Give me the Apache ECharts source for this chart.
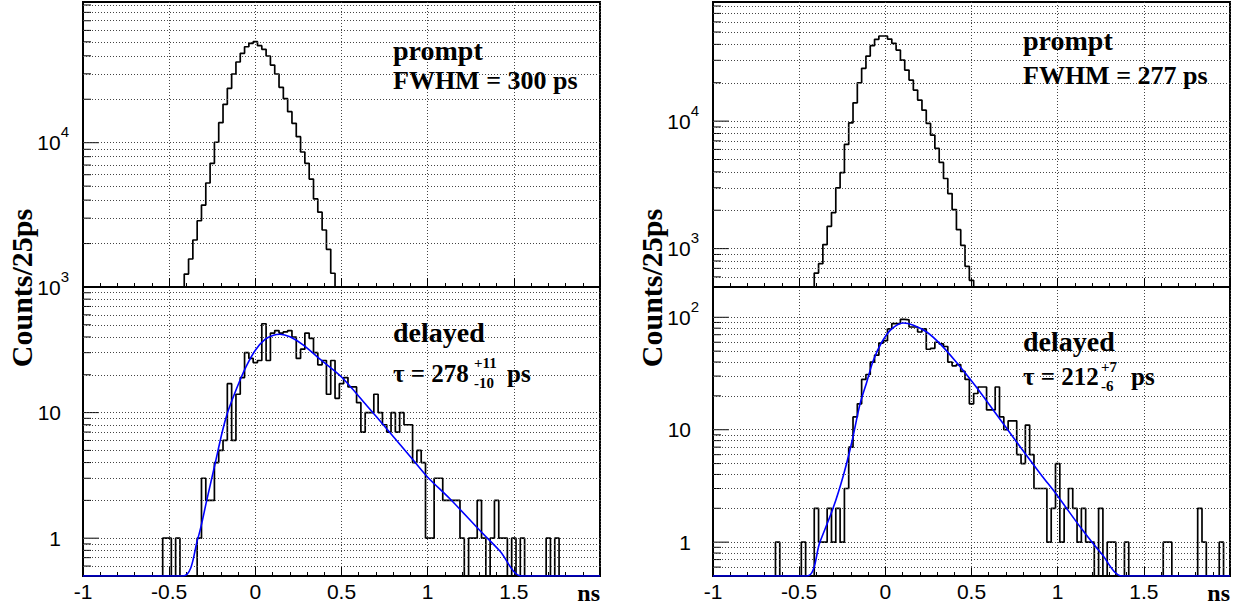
<!DOCTYPE html>
<html>
<head>
<meta charset="utf-8">
<script src="https://cdn.jsdelivr.net/npm/echarts/dist/echarts.min.js"></script>
<style>
html,body{margin:0;padding:0;background:#fff;}
#chart{width:1248px;height:608px;}
</style>
</head>
<body>
<div id="chart"></div>
<script>
// ---------------- data ----------------
const binWidth = 0.025;              // ns, 25 ps bins (centred on multiples of 25 ps)
const xTickValues = [-1, -0.5, 0, 0.5, 1, 1.5, 2];

// left column
const promptLeftFirstCenter = -0.400;
const promptLeftCounts = [1230,1563,2117,2877,3696,5258,7199,10070,13770,18460,23820,29920,36240,41600,46220,48840,50120,
  47020,44360,39880,34520,29920,24200,20190,16400,13620,11010,8620,7200,5600,4077,3300,2484,1823,1245];

const delayedLeftFirstCenter = -0.525;
const delayedLeftCounts = [1,1,0,1,0,0,0,0,1,3,2,2,4,5,6,17,6,14,19,30,27,
  25,26,51,26,43,45,43,44,45,40,27,32,43,39,30,24,26,14,26,13,17,19,
  16,16,12,7,10,10,14,10,8,7,10,7,10,8,8,4,5,4,1,1,3,3,2,2,2,2,1,0,1,1,2,1,0,1,2,1,1,0,1,0,1,
  0,0,0,0,0,1,0,1];

const fitLeftX = [-1,-0.42,-0.334,-0.282,-0.234,-0.19,-0.161,-0.128,-0.089,-0.05,0.0,0.056,0.105,0.143,0.201,0.279,0.375,0.5,0.646,0.762,0.917,1.0,1.129,1.303,1.419,1.545,2.0];
const fitLeftY = [0.5,0.5,0.99,2.0,3.9,7.2,10,13.3,18.1,23.8,31.4,38.2,41.3,42.1,40.1,34.4,26.6,19.2,11.4,7.45,4.17,3.06,2.06,1.15,0.79,0.5,0.5];

// right column
const promptRightFirstCenter = -0.400;
const promptRightCounts = [643,762,1075,1496,1917,2994,3952,6561,9706,13930,20000,25950,32410,39070,43830,46540,46540,
  44060,40740,36100,30150,25170,20990,17520,14620,12200,9590,7760,6105,4742,3548,2704,2023,1409,1062,726,564];

const delayedRightFirstCenter = -0.625;
const delayedRightCounts = [1,0,0,0,0,0,1,0,0,2,1,1,2,1,2,1,3,7,13,17,28,31,40,46,59,
  62,79,88,88,96,95,82,82,74,79,52,53,60,58,55,40,37,38,33,28,17,21,24,24,15,15,24,13,10,12,12,6,5,11,6,3,3,3,1,2,5,1,2,3,2,1,2,1,1,0,2,0,1,1,0,0,1,
  0,0,0,0,0,0,0,0,1,1,0,0,0,0,0,0,2,1,0,0,0,1];

const fitRightX = [-1,-0.455,-0.38,-0.302,-0.244,-0.195,-0.147,-0.108,-0.07,-0.021,0.037,0.105,0.163,0.24,0.318,0.405,0.521,0.657,0.793,0.909,0.986,1.141,1.257,1.374,2.0];
const fitRightY = [0.5,0.5,1,2.03,3.9,7.7,16.9,26.5,41.3,60,79,89,85,74,58,41,24.7,12.9,6.7,3.88,2.75,1.3,0.78,0.5,0.5];

// axis ranges
const xRange = [-1, 2];
const yRangePromptLeft = [1000, 94400];
const yRangeDelayedLeft = [0.5, 100];
const yRangePromptRight = [500, 86000];
const yRangeDelayedRight = [0.5, 186];

// texts
const yTitle = 'Counts/25ps';
const xUnit = 'ns';

// ---------------- helpers ----------------
const ZERO = 1e-3; // empty bins are drawn below the log-axis floor
function histPoints(firstCenter, counts) {
  const pts = [];
  const nBins = Math.round((xRange[1] - xRange[0]) / binWidth) + 1;
  let last = ZERO;
  for (let k = 0; k < nBins; k++) {
    const c = xRange[0] + k * binWidth;
    const idx = Math.round((c - firstCenter) / binWidth);
    const v = (idx >= 0 && idx < counts.length) ? counts[idx] : 0;
    last = v > 0 ? v : ZERO;
    pts.push([c - binWidth / 2, last]);
  }
  pts.push([xRange[1] + binWidth / 2, last]);
  return pts;
}
function zip(xs, ys) { return xs.map((x, i) => [x, ys[i]]); }
function logGrid(range) {
  const out = [];
  for (let e = -1; e <= 5; e++) {
    for (let m = 1; m <= 9; m++) {
      const v = m * Math.pow(10, e);
      if (v > range[0] * 1.0001 && v < range[1] * 0.9999) out.push({ v: v, major: m === 1 });
    }
  }
  return out;
}

const panels = [
  { grid: { left: 83, top: 2, width: 517, height: 285 }, yr: yRangePromptLeft, counts: promptLeftCounts, first: promptLeftFirstCenter, fit: null, xLabels: false, hideTopLabel: false },
  { grid: { left: 83, top: 287, width: 517, height: 289 }, yr: yRangeDelayedLeft, counts: delayedLeftCounts, first: delayedLeftFirstCenter, fit: zip(fitLeftX, fitLeftY), xLabels: true, hideTopLabel: true },
  { grid: { left: 713, top: 2, width: 517, height: 285 }, yr: yRangePromptRight, counts: promptRightCounts, first: promptRightFirstCenter, fit: null, xLabels: false, hideTopLabel: false },
  { grid: { left: 713, top: 287, width: 517, height: 289 }, yr: yRangeDelayedRight, counts: delayedRightCounts, first: delayedRightFirstCenter, fit: zip(fitRightX, fitRightY), xLabels: true, hideTopLabel: true }
];

const FONT_SANS = '"Liberation Sans", Arial, Helvetica, sans-serif';
const FONT_SERIF = '"Liberation Serif", "Times New Roman", serif';
const DOT = { type: [1, 2], color: '#444', width: 1 };
const TICK_FS = 21;

const grids = [], xAxes = [], yAxes = [], series = [];
panels.forEach((p, i) => {
  grids.push(Object.assign({ show: true, borderColor: '#000', borderWidth: 2, backgroundColor: 'transparent', containLabel: false, outerBoundsMode: 'none' }, p.grid));
  xAxes.push({
    type: 'value', gridIndex: i, min: xRange[0], max: xRange[1], interval: 0.5, position: 'bottom',
    axisLine: { show: true, onZero: false, lineStyle: { color: '#000', width: 2 } },
    axisTick: { show: true, inside: true, length: 9, lineStyle: { color: '#000', width: 1 } },
    minorTick: { show: true, splitNumber: 5, length: 4, lineStyle: { color: '#000', width: 1 } },
    splitLine: { show: true, lineStyle: DOT },
    axisLabel: {
      show: p.xLabels, margin: 5, color: '#000', fontSize: TICK_FS, fontFamily: FONT_SANS,
      showMinLabel: true, showMaxLabel: true,
      formatter: v => (Math.abs(v - xRange[1]) < 1e-9 ? '' : String(v))
    }
  });
  const yr = p.yr, hideTop = p.hideTopLabel;
  yAxes.push({
    type: 'log', logBase: 10, gridIndex: i, min: yr[0], max: yr[1],
    axisLine: { show: true, onZero: false, lineStyle: { color: '#000', width: 2 } },
    axisTick: { show: false },
    splitLine: { show: false },
    axisLabel: {
      show: true, margin: 14, color: '#000', fontSize: TICK_FS, fontFamily: FONT_SANS,
      showMinLabel: true, showMaxLabel: true, align: 'right',
      formatter: function (v) {
        const e = Math.log10(v), r = Math.round(e);
        if (Math.abs(e - r) > 1e-6) return '';
        if (hideTop && v >= yr[1] * 0.999) return '';
        if (r === 0) return '{b|1}{p| }';
        if (r === 1) return '{b|10}{p| }';
        return '{b|10}{s|' + r + '}';
      },
      rich: {
        b: { fontSize: TICK_FS, fontFamily: FONT_SANS, color: '#000', verticalAlign: 'middle' },
        s: { fontSize: 15, fontFamily: FONT_SANS, color: '#000', verticalAlign: 'middle', padding: [0, 0, 22, 0] },
        p: { fontSize: 15, width: 8, verticalAlign: 'middle' }
      }
    }
  });
  const gl = logGrid(yr);
  series.push({
    type: 'line', xAxisIndex: i, yAxisIndex: i, step: 'end', symbol: 'none', clip: true,
    data: histPoints(p.first, p.counts),
    lineStyle: { color: '#000', width: 1.7 }, z: 3, animation: false,
    markLine: {
      silent: true, symbol: ['none', 'none'], label: { show: false }, animation: false,
      lineStyle: DOT, data: gl.map(g => ({ yAxis: g.v }))
    }
  });
  series.push({
    type: 'custom', xAxisIndex: i, yAxisIndex: i, clip: false, silent: true, z: 4, animation: false,
    data: gl.map(g => [xRange[0], g.v, g.major ? 16 : 8]),
    renderItem: function (params, api) {
      const pt = api.coord([api.value(0), api.value(1)]);
      return { type: 'line', shape: { x1: pt[0], y1: pt[1], x2: pt[0] + api.value(2), y2: pt[1] }, style: { stroke: '#000', lineWidth: 1 } };
    }
  });
  if (p.fit) {
    series.push({
      type: 'line', xAxisIndex: i, yAxisIndex: i, symbol: 'none', clip: true, smooth: 0.3,
      data: p.fit, lineStyle: { color: '#0000ff', width: 1.6 }, z: 5, animation: false
    });
  }
});

function txt(x, y, text, size, opts) {
  return {
    type: 'text', x: x, y: y, z: 100,
    style: Object.assign({ text: text, fontSize: size, fontFamily: FONT_SERIF, fontWeight: 'bold', fill: '#000', align: 'left', verticalAlign: 'middle' }, opts || {})
  };
}

const graphics = [
  // left column
  txt(393, 50, 'prompt', 28),
  txt(393, 80, 'FWHM = 300 ps', 26),
  txt(393, 332, 'delayed', 28),
  txt(393, 373, 'τ = 278', 25),
  txt(474, 363, '+11', 15),
  txt(474, 383, '-10', 15),
  txt(507, 373, 'ps', 25),
  // right column
  txt(1023, 40, 'prompt', 28),
  txt(1023, 75, 'FWHM = 277 ps', 26),
  txt(1023, 341, 'delayed', 28),
  txt(1023, 376, 'τ = 212', 25),
  txt(1101, 367, '+7', 15),
  txt(1101, 386, '-6', 15),
  txt(1131, 376, 'ps', 25),
  // axis titles
  Object.assign(txt(21, 288, yTitle, 30, { align: 'center' }), { rotation: Math.PI / 2 }),
  Object.assign(txt(651, 288, yTitle, 30, { align: 'center' }), { rotation: Math.PI / 2 }),
  txt(600, 593, xUnit, 24, { align: 'right' }),
  txt(1230, 593, xUnit, 24, { align: 'right' })
];

const chart = echarts.init(document.getElementById('chart'), null, { renderer: 'svg', width: 1248, height: 608 });
chart.setOption({
  animation: false,
  backgroundColor: '#fff',
  grid: grids, xAxis: xAxes, yAxis: yAxes, series: series, graphic: graphics
});
</script>
</body>
</html>
